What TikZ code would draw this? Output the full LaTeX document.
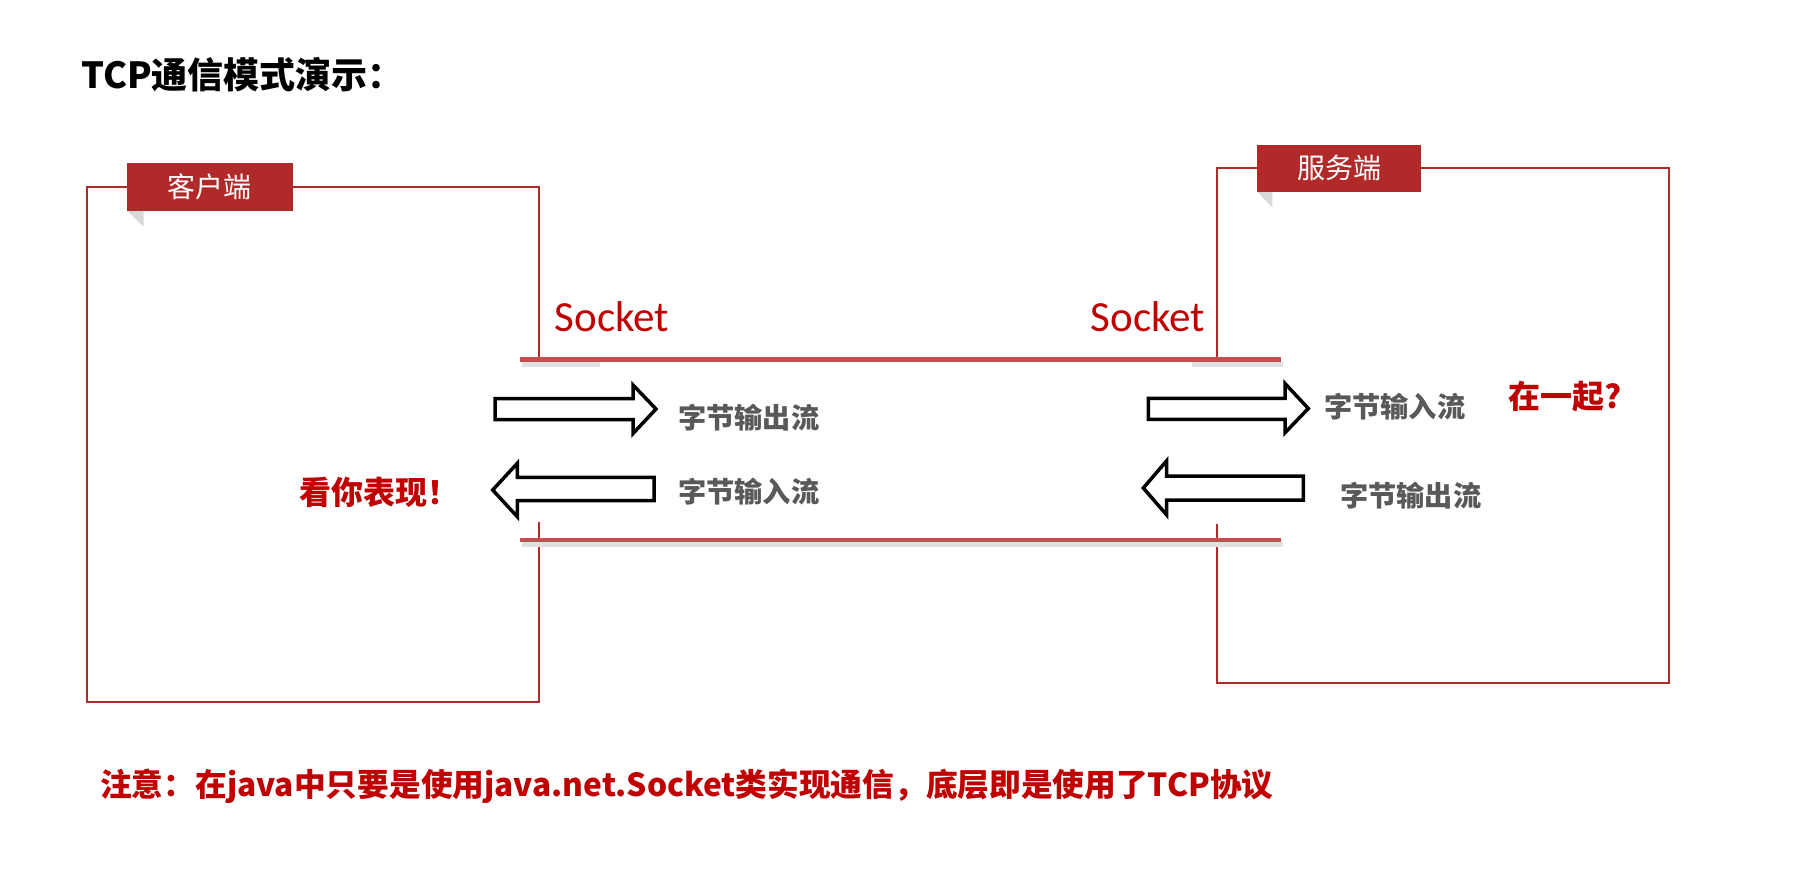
\documentclass[tikz,border=0pt]{standalone}
\usepackage{fontspec}
\newfontfamily\cjk{Noto Sans CJK SC}
\newfontfamily\calib{Carlito}
\definecolor{boxred}{RGB}{176,42,42}
\definecolor{linered}{RGB}{192,80,77}
\definecolor{txtred}{RGB}{192,0,0}
\definecolor{txtgrey}{RGB}{89,89,89}
\definecolor{foldgrey}{RGB}{217,217,217}
\tikzset{
  panel/.style={draw=boxred, line width=2pt, inner sep=0pt},
  tag/.style={fill=boxred, text=white, inner sep=0pt, font=\cjk\fontsize{28}{28}\selectfont},
  fold/.style={fill=foldgrey, draw=none},
  gap/.style={fill=white, draw=none},
  sockline/.style={draw=linered, line width=4.5pt},
  sockshadow/.style={draw=black!12, line width=5pt},
  blockarrow/.style={draw=black, fill=white, line width=3.5pt, miter limit=10},
  socklabel/.style={text=txtred, inner sep=0pt, anchor=base west, font=\calib\fontsize{43}{43}\selectfont},
  streamtxt/.style={text=txtgrey, inner sep=0pt, anchor=west, font=\cjk\bfseries\fontsize{28.2}{28.2}\selectfont},
  redtxt/.style={text=txtred, inner sep=0pt, anchor=west, font=\cjk\bfseries\fontsize{32}{32}\selectfont},
}
\begin{document}
\begin{tikzpicture}[x=1pt, y=-1pt]
\useasboundingbox[fill=white] (0,0) rectangle (1812,871);

% title
\node[inner sep=0pt, anchor=west, font=\cjk\bfseries\fontsize{36}{36}\selectfont] (title) at (81,75) {TCP通信模式演示：};

% panels
\node[panel, minimum width=452pt, minimum height=515pt] (client) at (313,444.5) {};
\node[panel, minimum width=452pt, minimum height=515pt] (server) at (1443,425.5) {};

% gaps in the panel edges between the socket lines
\fill[gap] (535,366) rectangle (543,521.5);
\fill[gap] (1213,366) rectangle (1221,524);

% tags
\fill[fold] (127,210.5) -- (143.5,210.5) -- (143.5,226.7) -- cycle;
\node[tag, minimum width=165.6pt, minimum height=47.4pt] (clienttag) at (209.8,187) {客户端};
\fill[fold] (1256.8,191.5) -- (1272.4,191.5) -- (1272.4,207.3) -- cycle;
\node[tag, minimum width=164.6pt, minimum height=46.7pt] (servertag) at (1339.1,168.35) {服务端};

% socket lines
\draw[sockshadow] (522,364.5) -- (600,364.5);
\draw[sockshadow] (1192,364.5) -- (1283,364.5);
\draw[sockshadow] (522,544.5) -- (1283,544.5);
\draw[sockline] (520,359.5) -- (1281,359.5);
\draw[sockline] (520,540) -- (1281,540);

\node[socklabel] (sockL) at (554.5,331.5) {Socket};
\node[socklabel] (sockR) at (1090.5,331.5) {Socket};

% block arrows
\draw[blockarrow] (495,398.5) -- (633,398.5) -- (633,385) -- (656,409) -- (633,433.5) -- (633,419.5) -- (495,419.5) -- cycle;
\draw[blockarrow] (654,477.3) -- (517.3,477.3) -- (517.3,463.3) -- (492.7,490) -- (517.3,516.7) -- (517.3,500.7) -- (654,500.7) -- cycle;
\draw[blockarrow] (1148.3,398.3) -- (1285,398.3) -- (1285,383.5) -- (1308.3,408.5) -- (1285,432.7) -- (1285,419.3) -- (1148.3,419.3) -- cycle;
\draw[blockarrow] (1303.3,476) -- (1166.7,476) -- (1166.7,460.7) -- (1143.3,488) -- (1166.7,515) -- (1166.7,500) -- (1303.3,500) -- cycle;

% stream labels
\node[streamtxt] (outL) at (678,418) {字节输出流};
\node[streamtxt] (inL) at (678,492) {字节输入流};
\node[streamtxt] (inR) at (1324,406.5) {字节输入流};
\node[streamtxt] (outR) at (1340,496) {字节输出流};

% red remarks
\node[redtxt] (show) at (299,492) {看你表现！};
\node[redtxt] (together) at (1508,397) {在一起?};

% note
\node[inner sep=0pt, anchor=west, text=txtred, font=\cjk\bfseries\fontsize{31.7}{31.7}\selectfont] (note) at (100,786) {注意：在java中只要是使用java.net.Socket类实现通信，底层即是使用了TCP协议};
\end{tikzpicture}
\end{document}
